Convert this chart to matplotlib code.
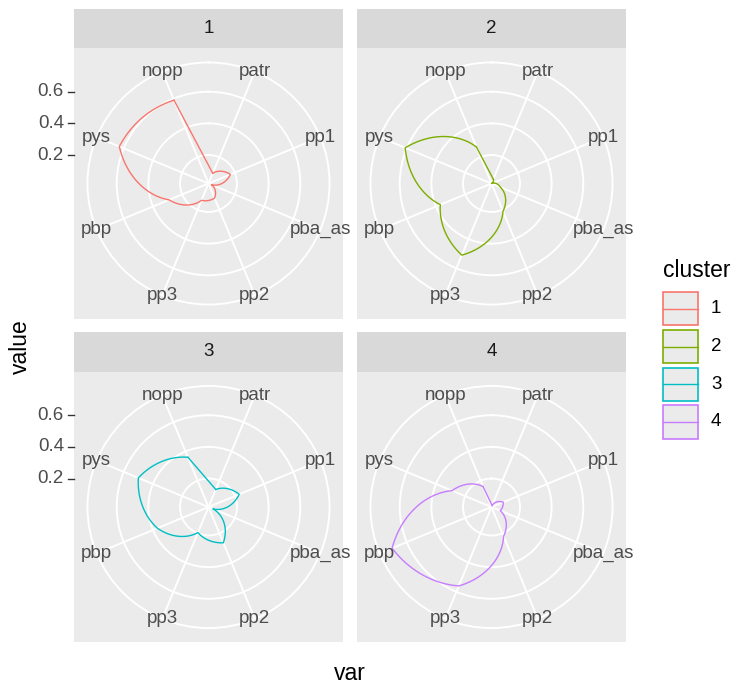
import numpy as np
import matplotlib
matplotlib.use("Agg")
import matplotlib.pyplot as plt
from matplotlib.lines import Line2D
from matplotlib.patches import Rectangle

plt.rcParams['font.family'] = ['Liberation Sans', 'DejaVu Sans']

# categories in factor order (clockwise from the top)
var_names = ["patr", "pp1", "pba_as", "pp2", "pp3", "pbp", "pys", "nopp"]
clusters = ["1", "2", "3", "4"]

# values, same order as var_names
c1_values = [0.09, 0.17, 0.04, 0.12, 0.135, 0.29, 0.63, 0.59]
c2_values = [0.05, 0.02, 0.08, 0.21, 0.51, 0.37, 0.61, 0.27]
c3_values = [0.14, 0.23, 0.05, 0.265, 0.195, 0.37, 0.50, 0.36]
c4_values = [0.03, 0.10, 0.08, 0.22, 0.56, 0.70, 0.29, 0.16]
cluster_values = [c1_values, c2_values, c3_values, c4_values]

r_breaks = [0.2, 0.4, 0.6]
colors = ["#F8766D", "#7CAE00", "#00BFC4", "#C77CFF"]

W, H = 734, 686
fig = plt.figure(figsize=(W / 100, H / 100), dpi=100)
fig.patch.set_facecolor("white")


def rect(x0, y0, x1, y1):
    # pixel box (top-left origin) -> figure fraction
    return [x0 / W, 1 - y1 / H, (x1 - x0) / W, (y1 - y0) / H]


col_x = [(74, 343), (357, 626)]
row_y = [(48, 319), (372, 642)]
strip_y = [(9, 48), (332, 372)]

all_vals = np.concatenate(cluster_values)
vmin, vmax = all_vals.min(), all_vals.max()
rtop = vmin + (vmax - vmin) * 0.45 / 0.4

n = len(var_names)
theta = (np.arange(n) + 0.5) * 2 * np.pi / n

for i, vals in enumerate(cluster_values):
    row, col = divmod(i, 2)
    x0, x1 = col_x[col]
    y0, y1 = row_y[row]
    s0, s1 = strip_y[row]

    # strip
    sax = fig.add_axes(rect(x0, s0, x1, s1))
    sax.set_facecolor("#D9D9D9")
    sax.set_xticks([]); sax.set_yticks([])
    for sp in sax.spines.values():
        sp.set_visible(False)
    sax.text(0.5, 0.5, clusters[i], ha="center", va="center",
             fontsize=13.5, color="#1A1A1A", transform=sax.transAxes)

    # panel background
    bax = fig.add_axes(rect(x0, y0, x1, y1))
    bax.set_facecolor("#EBEBEB")
    bax.set_xticks([]); bax.set_yticks([])
    for sp in bax.spines.values():
        sp.set_visible(False)

    # polar area, outer ring = 0.45 of the panel
    cx, cy = (x0 + x1) / 2, (y0 + y1) / 2
    half = 0.45 * min(x1 - x0, y1 - y0)
    ax = fig.add_axes(rect(cx - half, cy - half, cx + half, cy + half),
                      projection="polar")
    ax.patch.set_alpha(0)
    ax.set_theta_zero_location("N")
    ax.set_theta_direction(-1)
    ax.set_ylim(vmin, rtop)
    ax.set_xticks(theta)
    ax.set_xticklabels([])
    ax.set_yticks(r_breaks)
    ax.set_yticklabels([])
    ax.grid(True, color="white", lw=1.4)
    ax.spines["polar"].set_color("white")
    ax.spines["polar"].set_linewidth(1.4)
    ax.tick_params(length=0)

    # path through the categories, drawn straight in data space (spirals)
    ln, = ax.plot(theta, vals, color=colors[i], lw=1.0, zorder=3)
    ln.get_path()._interpolation_steps = 60
    # closing edge of the polygon is a plain straight line
    ax.plot([theta[-1], theta[0]], [vals[-1], vals[0]], color=colors[i],
            lw=1.0, zorder=3)

    for t, name in zip(theta, var_names):
        ax.text(t, rtop, name, ha="center", va="center", fontsize=13.5,
                color="#4D4D4D", clip_on=False, zorder=4)

    # radial axis on the left column
    if col == 0:
        inv = fig.transFigure.inverted()
        for b in r_breaks:
            dx, dy = ax.transData.transform((0, b))
            fy = inv.transform((dx, dy))[1]
            fig.text(64 / W, fy, "%.1f" % b, ha="right", va="center",
                     fontsize=13.5, color="#4D4D4D")
            fig.add_artist(Line2D([68 / W, x0 / W], [fy, fy],
                                  color="#333333", lw=1.0,
                                  transform=fig.transFigure))

# axis titles
fig.text(350 / W, 1 - 673 / H, "var", ha="center", va="center",
         fontsize=16.5, color="black")
fig.text(20 / W, 1 - 347 / H, "value", ha="center", va="center",
         rotation=90, fontsize=16.5, color="black")

# legend
fig.text(663 / W, 1 - 277 / H, "cluster", ha="left", va="baseline",
         fontsize=16.5, color="black")
key_top = 290
key_h = 37.7
for i, name in enumerate(clusters):
    ky0 = key_top + i * key_h
    ky1 = ky0 + key_h
    kax = fig.add_axes(rect(661, ky0, 700, ky1))
    kax.set_xlim(0, 1); kax.set_ylim(0, 1)
    kax.axis("off")
    kax.add_patch(Rectangle((0.06, 0.06), 0.88, 0.88, facecolor="#EBEBEB",
                            edgecolor=colors[i], lw=1.2))
    kax.plot([0.06, 0.94], [0.5, 0.5], color=colors[i], lw=1.0)
    fig.text(711 / W, 1 - (ky0 + key_h / 2) / H, name, ha="left",
             va="center", fontsize=13.5, color="black")

fig.savefig("out.png", dpi=100)
